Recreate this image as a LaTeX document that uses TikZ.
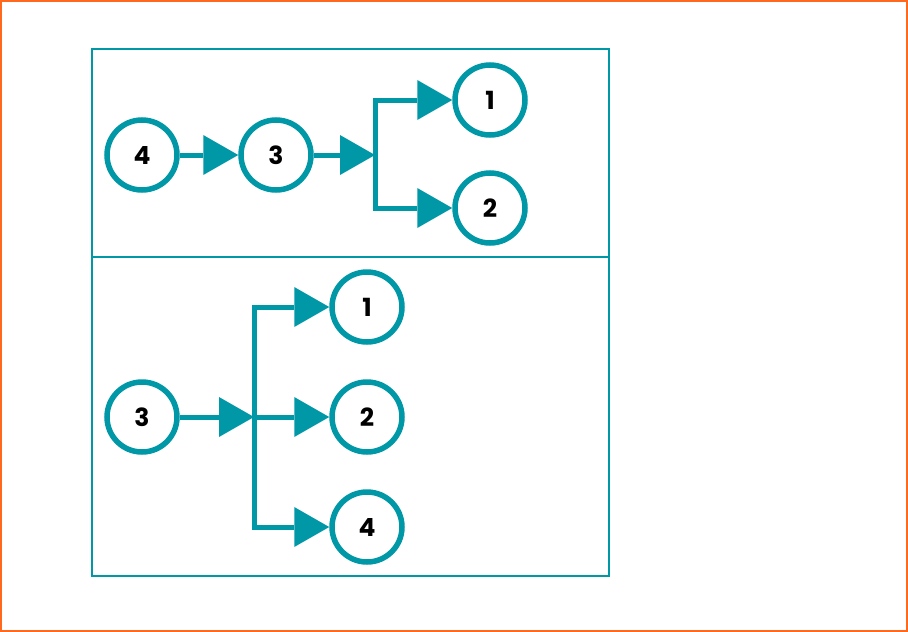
\documentclass[tikz,border=0pt]{standalone}
\usepackage{fontspec}
\setmainfont{Poppins}
\usetikzlibrary{arrows.meta}
\definecolor{tealline}{RGB}{0,151,167}
\definecolor{edgeorange}{RGB}{255,105,30}
\tikzset{
    ring/.style={circle, draw=tealline, line width=5.5pt, minimum size=70pt, inner sep=0pt,
        font=\fontsize{25}{28}\selectfont\bfseries},
    flow/.style={draw=tealline, line width=5pt,
        -{Triangle[length=35pt,width=40pt,line width=0pt]}},
    frame/.style={draw=tealline, line width=2pt}
}
\begin{document}
\begin{tikzpicture}[x=1pt,y=-1pt]
        \useasboundingbox (0,0) rectangle (908,632);
        \draw[edgeorange, line width=2pt] (1,1) rectangle (907,631);
        % Panels
        \draw[frame] (92,49) rectangle (609,576);
        \draw[frame] (92,257) -- (609,257);
        % Upper panel: chain with a split
        \foreach \n/\x/\y in {4/142/155,3/276/155,1/490/100,2/490/208} {
            \node[ring] (a\n) at (\x,\y) {\n};
        }
        \coordinate (asplit) at (375,155);
        \draw[flow] (a4) -- (a3);
        \draw[flow] (a3) -- (asplit);
        \draw[flow] (asplit) |- (a1);
        \draw[flow] (asplit) |- (a2);
        % Lower panel: one node into three
        \foreach \n/\x/\y in {3/142/417,1/367/307,2/367/417,4/367/527} {
            \node[ring] (b\n) at (\x,\y) {\n};
        }
        \coordinate (bsplit) at (254,417);
        \draw[flow] (b3) -- (bsplit);
        \draw[flow] (bsplit) |- (b1);
        \draw[flow] (bsplit) -- (b2);
        \draw[flow] (bsplit) |- (b4);
    \end{tikzpicture}
\end{document}
